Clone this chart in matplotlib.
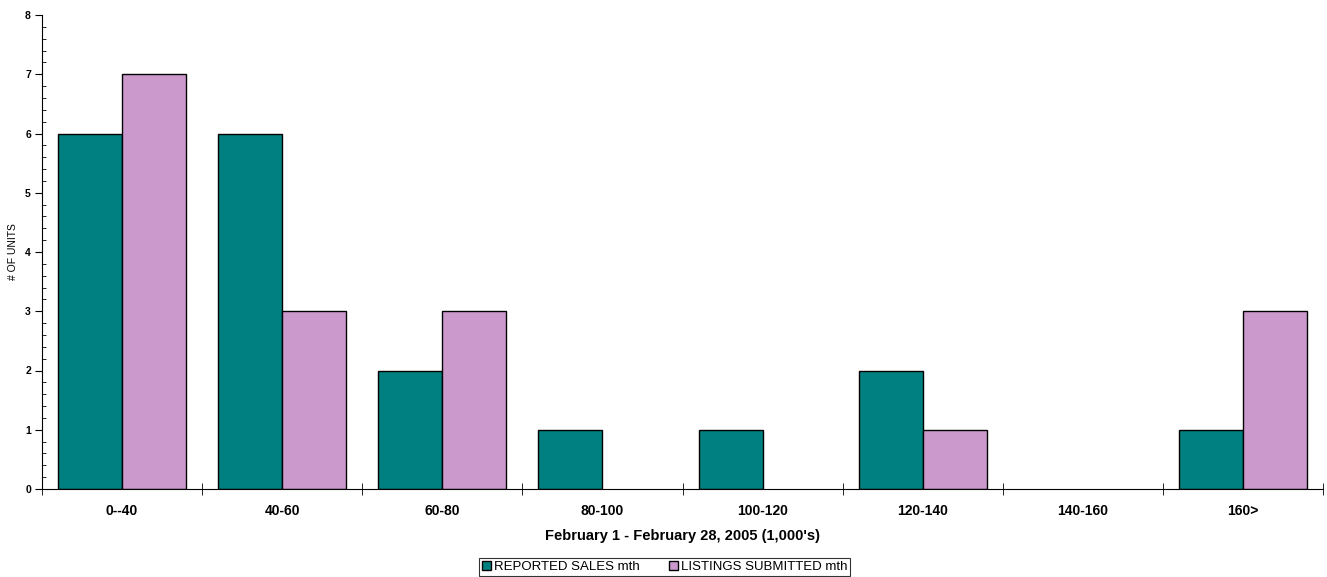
import numpy as np
import matplotlib.pyplot as plt
from matplotlib.ticker import MultipleLocator

plt.rcParams['font.family'] = ['Liberation Sans', 'DejaVu Sans']

categories = ['0--40', '40-60', '60-80', '80-100', '100-120', '120-140', '140-160', '160>']
sales = [6, 6, 2, 1, 1, 2, 0, 1]
listings = [7, 3, 3, 0, 0, 1, 0, 3]

fig = plt.figure(figsize=(13.27, 5.77), dpi=100)
ax = fig.add_axes([42/1327, 88/577, 1281/1327, 474/577])

x = np.arange(len(categories))
w = 0.4
# empty classes draw nothing
s = np.array(sales, dtype=float)
l = np.array(listings, dtype=float)
s[s == 0] = np.nan
l[l == 0] = np.nan
ax.bar(x - w/2, s, w, color='#008080', edgecolor='black', linewidth=1, label='REPORTED SALES mth')
ax.bar(x + w/2, l, w, color='#CC99CC', edgecolor='black', linewidth=1, label='LISTINGS SUBMITTED mth')

ax.set_xlim(-0.5, len(categories) - 0.5)
ax.set_ylim(0, 8)
for sp in ['top', 'right']:
    ax.spines[sp].set_visible(False)

ax.set_xticks(x)
ax.set_xticklabels(categories, fontsize=10, fontweight='bold')
ax.tick_params(axis='x', length=0, pad=11)
ax.set_xticks(np.arange(len(categories) + 1) - 0.5, minor=True)
ax.tick_params(axis='x', which='minor', length=8, direction='inout')

ax.yaxis.set_major_locator(MultipleLocator(1))
ax.yaxis.set_minor_locator(MultipleLocator(0.2))
ax.tick_params(axis='y', which='major', length=5, direction='out', labelsize=7.5, pad=3)
ax.tick_params(axis='y', which='minor', length=3, direction='in')
for t in ax.get_yticklabels():
    t.set_fontweight('bold')

ax.set_xlabel("February 1 - February 28, 2005 (1,000's)", fontsize=10.5, fontweight='bold', labelpad=8)
ax.set_ylabel('# OF UNITS', fontsize=7.5, labelpad=5)

leg = ax.legend(loc='center', bbox_to_anchor=(0.486, -0.165), ncol=2, fontsize=9.5,
                frameon=True, fancybox=False, edgecolor='black', handlelength=0.7, handleheight=0.7,
                handletextpad=0.2, columnspacing=2.2, borderpad=0.2, borderaxespad=0)
leg.get_frame().set_linewidth(0.8)

fig.savefig('out.png', dpi=100)
